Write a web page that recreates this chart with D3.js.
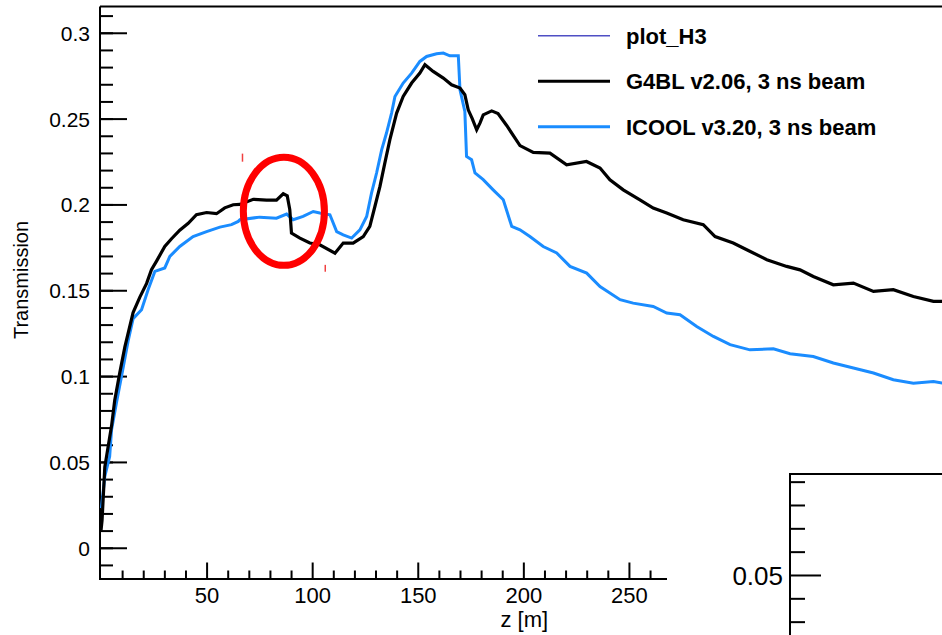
<!doctype html>
<html lang="en">
<head>
    <meta charset="UTF-8">
    <title>Transmission vs z</title>
    <style>
        body { margin: 0; background: #fff; }
        #chart { display: block; background: #fff; }
        #chart text { font-family: "Liberation Sans", Arial, sans-serif; fill: #000; }
        .axis path { display: none; }
        .axis line { stroke: #000; stroke-width: 2; }
    </style>
</head>
<body>
<svg id="chart" width="942" height="635"></svg>

<script src="https://cdn.jsdelivr.net/npm/d3@7"></script>
<script>
    // G4BL v2.06 (black)
    var g4blZ = [0, 0.5, 1.8, 5, 6.5, 8.9, 11.3, 15.2, 18.4, 21.6, 23.9, 26.3, 30.2, 33.4, 37.3, 41.3,
        45.2, 50, 54.7, 58.6, 62.6, 65.8, 72.1, 78.4, 83.1, 86.3, 88.2, 89.4, 90.2, 94.2, 98.9,
        103.6, 110.8, 114.7, 119.4, 124.2, 127.3, 129.7, 132.1, 134.4, 136.8, 140, 143.1, 147.1,
        151, 153.4, 157.3, 162.1, 166, 170, 172.3, 173.9, 175.8, 177.9, 179.5, 181, 185, 188,
        192.1, 198.4, 204.7, 212.6, 220.5, 229.9, 236.3, 241, 247.3, 255.2, 261.5, 267.9, 275.7,
        285.2, 290.8, 299.4, 305.8, 315.3, 324.7, 331, 337.3, 346.8, 356.3, 365.8, 375.2, 384.7,
        394.2, 398.5];
    var g4blT = [0.010, 0.016, 0.047, 0.071, 0.086, 0.102, 0.117, 0.137, 0.146, 0.154, 0.162, 0.167,
        0.1755, 0.180, 0.185, 0.189, 0.194, 0.1953, 0.1946, 0.198, 0.1998, 0.200, 0.203, 0.2025,
        0.2025, 0.2062, 0.205, 0.197, 0.1833, 0.1804, 0.1775, 0.1765, 0.1716, 0.1775, 0.1775,
        0.1813, 0.1872, 0.1988, 0.2105, 0.2241, 0.2377, 0.2532, 0.2629, 0.2707, 0.2765, 0.2814,
        0.2775, 0.2736, 0.2697, 0.2678, 0.2639, 0.2551, 0.2500, 0.2435, 0.2475, 0.2522, 0.2545,
        0.2530, 0.2460, 0.2343, 0.2303, 0.2299, 0.2231, 0.2250, 0.2212, 0.2144, 0.2085, 0.2027,
        0.1979, 0.195, 0.1911, 0.1882, 0.1813, 0.1775, 0.1736, 0.1678, 0.1639, 0.1619, 0.158,
        0.1532, 0.1542, 0.1493, 0.1503, 0.1464, 0.1435, 0.1435];

    // ICOOL v3.20 (blue)
    var icoolZ = [0.2, 1.8, 4.1, 5, 7.3, 9.7, 12.8, 15.2, 19.2, 22.3, 25.5, 30.2, 32.6, 37.3, 43.6,
        50, 56.3, 61.8, 65, 65.8, 75.2, 83.1, 87.9, 91, 95.7, 100.5, 103.6, 108.4, 111.6, 114.7,
        118.7, 122.6, 125.8, 128.1, 130.5, 132.9, 135.2, 137.6, 139.2, 143.1, 147.1, 151, 154.2,
        158.9, 162.1, 165.2, 169.2, 170, 172.3, 173.1, 175.5, 177.1, 181, 185.7, 190.5, 194.5,
        198.4, 203.1, 209.4, 215.8, 222.1, 230, 236.3, 245.8, 252, 261.5, 267.9, 274.2, 282.1,
        290, 297.9, 307.3, 318.4, 326.3, 337.3, 346.8, 356.3, 365.8, 375.2, 384.7, 394.2, 398.5];
    var icoolT = [0.0231, 0.0415, 0.0532, 0.0687, 0.0843, 0.0998, 0.1202, 0.1335, 0.1386, 0.1503,
        0.161, 0.163, 0.1697, 0.1755, 0.1813, 0.1842, 0.1868, 0.1882, 0.1901, 0.1911, 0.1926,
        0.192, 0.1944, 0.1911, 0.193, 0.1959, 0.195, 0.194, 0.1842, 0.1823, 0.1804, 0.1852, 0.193,
        0.2066, 0.2183, 0.2318, 0.2416, 0.2532, 0.2629, 0.2707, 0.2765, 0.2833, 0.2862, 0.2878,
        0.2882, 0.2866, 0.2866, 0.2668, 0.2542, 0.2279, 0.226, 0.2183, 0.2144, 0.2085, 0.2027,
        0.1872, 0.1852, 0.1813, 0.1755, 0.1717, 0.1639, 0.16, 0.1522, 0.1445, 0.1425, 0.1406,
        0.1367, 0.1357, 0.1289, 0.1231, 0.1183, 0.1153, 0.1159, 0.113, 0.1114, 0.1076, 0.1047,
        0.1018, 0.0979, 0.0959, 0.0969, 0.0959];

    var xMajor = [50, 100, 150, 200, 250];
    var xMinor = [10, 20, 30, 40, 60, 70, 80, 90, 110, 120, 130, 140, 160, 170, 180, 190,
        210, 220, 230, 240, 260];
    var yMajor = [0, 0.05, 0.1, 0.15, 0.2, 0.25, 0.3];
    var yMinor = d3.range(-1, 32).map(function(i) { return i / 100 });
    var insetMajor = [0.05];
    var insetMinor = [0.04, 0.045, 0.055, 0.06, 0.065, 0.07];

    var legendNames = ['plot_H3', 'G4BL v2.06, 3 ns beam', 'ICOOL v3.20, 3 ns beam'];
    var legendColors = ['#4f4fc4', '#000000', '#1a8cff'];

    // red ring drawn on the plot (centre z, T and half sizes in z, T)
    var ringCenter = [86.6, 0.196];
    var ringHalf = [19.2, 0.0315];
    var redMarks = [[67, 0.2296, 0.2249], [106.2, 0.1648, 0.1608]];

    var svg = d3.select('#chart');
    var W = 942, H = 635;

    var x = d3.scaleLinear().domain([0, 268.5]).range([101, 668]);
    var y = d3.scaleLinear().domain([-0.0182, 0.3153]).range([579, 6.5]);
    var yIn = d3.scaleLinear().domain([0.03714, 0.07164]).range([635, 474]);

    // frame lines
    svg.append('line').attr('x1', 100).attr('x2', W).attr('y1', y.range()[1]).attr('y2', y.range()[1])
        .attr('stroke', '#000').attr('stroke-width', 2);
    svg.append('line').attr('x1', 100).attr('x2', 100).attr('y1', y.range()[1]).attr('y2', y.range()[0] + 1)
        .attr('stroke', '#000').attr('stroke-width', 2);
    svg.append('line').attr('x1', 100).attr('x2', x.range()[1] - 1).attr('y1', 579).attr('y2', 579)
        .attr('stroke', '#000').attr('stroke-width', 2);

    // y axis
    svg.append('g').attr('class', 'axis').attr('transform', 'translate(100,0)')
        .call(d3.axisLeft(y).tickValues(yMinor).tickSizeInner(-13).tickSizeOuter(0).tickFormat(''));
    var ya = svg.append('g').attr('class', 'axis').attr('transform', 'translate(100,0)')
        .call(d3.axisLeft(y).tickValues(yMajor).tickSizeInner(-27).tickSizeOuter(0).tickPadding(10)
            .tickFormat(function(d) { return d === 0 ? '0' : d3.format('~g')(d) }));
    ya.selectAll('text').attr('font-size', 21).attr('dy', '0.36em');

    // x axis, ticks pointing up
    svg.append('g').attr('class', 'axis').attr('transform', 'translate(0,579)')
        .call(d3.axisBottom(x).tickValues(xMinor).tickSizeInner(-8.5).tickSizeOuter(0).tickFormat(''));
    var xa = svg.append('g').attr('class', 'axis').attr('transform', 'translate(0,579)')
        .call(d3.axisBottom(x).tickValues(xMajor).tickSizeInner(-16.5).tickSizeOuter(0).tickPadding(8));
    xa.selectAll('text').attr('font-size', 22);

    svg.append('text').attr('x', x(200) + 1).attr('y', 627).attr('text-anchor', 'middle')
        .attr('font-size', 22).text('z [m]');
    svg.append('text').attr('transform', 'translate(28,280) rotate(-90)').attr('text-anchor', 'middle')
        .attr('font-size', 20).text('Transmission');

    // curves
    svg.append('clipPath').attr('id', 'plotClip').append('rect')
        .attr('x', 100).attr('y', 6).attr('width', W - 100).attr('height', 573);
    var line = d3.line()
        .x(function(d) { return x(d[0]) })
        .y(function(d) { return y(d[1]) });
    var plot = svg.append('g').attr('clip-path', 'url(#plotClip)');
    plot.append('path').datum(d3.zip(icoolZ, icoolT)).attr('d', line)
        .attr('fill', 'none').attr('stroke', legendColors[2]).attr('stroke-width', 3)
        .attr('stroke-linejoin', 'miter');
    plot.append('path').datum(d3.zip(g4blZ, g4blT)).attr('d', line)
        .attr('fill', 'none').attr('stroke', legendColors[1]).attr('stroke-width', 3.2)
        .attr('stroke-linejoin', 'miter');

    // red annotation
    svg.append('ellipse')
        .attr('cx', x(ringCenter[0])).attr('cy', y(ringCenter[1]))
        .attr('rx', x(ringCenter[0] + ringHalf[0]) - x(ringCenter[0]))
        .attr('ry', y(ringCenter[1]) - y(ringCenter[1] + ringHalf[1]))
        .attr('fill', 'none').attr('stroke', '#ff0000').attr('stroke-width', 7);
    svg.selectAll('.redmark').data(redMarks).enter().append('line').attr('class', 'redmark')
        .attr('x1', function(d) { return x(d[0]) }).attr('x2', function(d) { return x(d[0]) })
        .attr('y1', function(d) { return y(d[1]) }).attr('y2', function(d) { return y(d[2]) })
        .attr('stroke', '#f04040').attr('stroke-width', 1.5);

    // legend
    var leg = svg.append('g');
    legendNames.forEach(function(name, i) {
        var ly = 35.7 + i * 45.5;
        leg.append('line').attr('x1', 538).attr('x2', 610).attr('y1', ly).attr('y2', ly)
            .attr('stroke', legendColors[i]).attr('stroke-width', i === 0 ? 1.6 : 3);
        leg.append('text').attr('x', 626).attr('y', ly).attr('dy', '0.36em')
            .attr('font-size', 22).attr('font-weight', 'bold').text(name);
    });

    // inset frame in the corner
    var inset = svg.append('g');
    inset.append('rect').attr('x', 790).attr('y', 474).attr('width', W - 790).attr('height', H - 474)
        .attr('fill', '#fff');
    inset.append('line').attr('x1', 790).attr('x2', W).attr('y1', 474).attr('y2', 474)
        .attr('stroke', '#000').attr('stroke-width', 2);
    inset.append('line').attr('x1', 790).attr('x2', 790).attr('y1', 473).attr('y2', H)
        .attr('stroke', '#000').attr('stroke-width', 2);
    inset.append('g').attr('class', 'axis').attr('transform', 'translate(790,0)')
        .call(d3.axisLeft(yIn).tickValues(insetMinor).tickSizeInner(-15).tickSizeOuter(0).tickFormat(''));
    var ia = inset.append('g').attr('class', 'axis').attr('transform', 'translate(790,0)')
        .call(d3.axisLeft(yIn).tickValues(insetMajor).tickSizeInner(-31).tickSizeOuter(0).tickPadding(7)
            .tickFormat(d3.format('.2f')));
    ia.selectAll('text').attr('font-size', 26).attr('dy', '0.36em');
</script>
</body>
</html>
